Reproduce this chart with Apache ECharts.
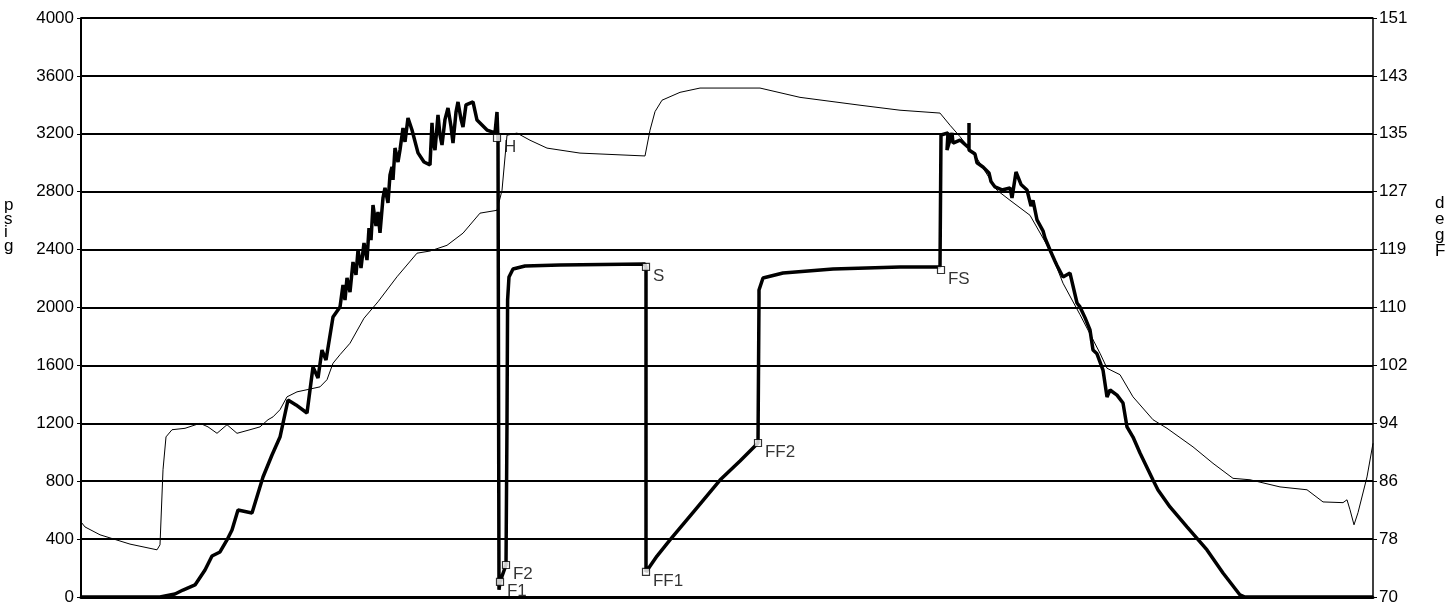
<!DOCTYPE html>
<html>
<head>
<meta charset="utf-8">
<script src="https://cdn.jsdelivr.net/npm/echarts@6/dist/echarts.min.js"></script>
<style>
html,body{margin:0;padding:0;background:#fff;}
#chart{width:1450px;height:609px;}
</style>
</head>
<body>
<div id="chart"></div>
<script>
// Elapsed time (arbitrary minutes) and pressure (psig)
const pressureTime = [
  0,39.5,47,51,57,62,65.5,69.5,73,75.5,
  78.5,85.5,91,95.5,99.5,103.5,107.5,113,116,118.5,
  120.5,122.5,126,129.5,131,132,133,134.5,136,137.5,
  138.5,140,141.5,143,144,145,146,147.5,148.5,149.5,
  151,152,153.5,154.5,155.5,156,157,158.5,159.5,161,
  162,163.5,165.5,168.5,171.5,174.5,175.5,176,177,178.5,
  179.5,180.5,182,183.5,185,186,187.5,188.5,190,191,
  192.5,193.5,196,198,203,207,208,208.5,209,209.5,
  212.5,213,213.3,214,216,222,239.5,282,282.5,282.5,
  288,294.5,307,319.5,329.5,338.5,339,339,341,351,
  376,409.5,429.5,430,433.5,433,435.5,436,439.5,444,
  444,444,447,448,451,454,455,457,460.5,464.5,
  465.5,467.5,470,473,475,476,478,481,482,484.5,
  487,488,491,494.5,498,499.5,502,504.5,506,508,
  511,513,514.5,518,521,523,526,529.5,536,538.5,
  544.5,553,563,571,579.5,582,646];
const pressurePsig = [
  0,0,21,48,83,187,283,311,394,463,
  601,580,829,981,1105,1361,1327,1271,1589,1513,
  1706,1637,1934,2004,2156,2052,2204,2107,2314,2225,
  2397,2273,2446,2328,2549,2466,2708,2563,2660,2515,
  2757,2826,2722,2916,2971,2881,3102,3005,3088,3240,
  3144,3309,3226,3068,3005,2985,3275,3150,3088,3330,
  3190,3123,3300,3378,3250,3136,3350,3420,3300,3247,
  3400,3399,3420,3295,3226,3206,3351,3157,50,104,
  221,1200,2052,2211,2266,2287,2294,2301,2280,173,
  283,394,601,808,940,1064,2052,2121,2204,2238,
  2266,2280,2280,3192,3206,3088,3206,3136,3157,3102,
  3275,3088,3060,3000,2971,2930,2870,2833,2812,2826,
  2757,2936,2850,2812,2700,2740,2605,2530,2480,2397,
  2320,2290,2211,2238,2031,2004,1930,1845,1706,1680,
  1568,1382,1430,1395,1340,1175,1105,995,808,739,
  622,484,325,166,14,0,0];

// Elapsed time and temperature (degF)
const tempTime = [0,2,9.5,24.5,38,39.5,41,42.5,45.5,52,59.5,63.5,68,73,78,84.5,89.5,93.5,96,99.5,103,108,113,119.5,123,126,129.5,134.5,141.5,148.5,158,168,174.5,183,191,199.5,208,210.5,213,218,224.5,233,249.5,282,284.5,287,290.5,299.5,309.5,339.5,359.5,389.5,409.5,429.5,434.5,439.5,447,458,464.5,474.5,484.5,491,499.5,509.5,513,519.5,526,536,543,556,566,576,584.5,599.5,613,621,631,633,634.5,636.5,638.5,643,646];
const tempDegF = [80.5,79.8,78.7,77.4,76.6,77.3,87.8,92.4,93.4,93.6,94.3,93.8,92.9,94.1,92.9,93.4,93.8,94.8,95.2,96.2,98.0,98.7,99.0,99.4,100.4,102.7,103.9,105.5,109.0,111.3,114.8,118.1,118.4,119.2,120.9,123.7,124.1,126.9,134.6,134.9,133.9,132.8,132.1,131.7,135.3,137.9,139.5,140.6,141.2,141.2,139.9,138.8,138.1,137.7,136.0,134.4,131.8,126.9,125.5,123.4,118.5,113.9,109.5,104.1,102.0,101.1,98.0,94.8,93.6,91.0,88.7,86.6,86.4,85.4,85.0,83.3,83.2,83.6,82.2,80.1,81.8,86.8,91.5];

// Event markers
const markerNames = ['H','F1','F2','S','FF1','FF2','FS'];
const markerTime = [208,209.5,212.5,282.5,282.5,338.5,430];
const markerPsig = [3171,104,221,2280,173,1064,2259];

// Tick labels
const psigTicks = [0,400,800,1200,1600,2000,2400,2800,3200,3600,4000];
const degFTicks = [70,78,86,94,102,110,119,127,135,143,151];

const FONT = 'Liberation Sans, Arial, sans-serif';
const degFMin = 70, degFMax = 151;
const degFStep = (degFMax - degFMin) / (degFTicks.length - 1);
const degFValues = degFTicks.map((_, i) => degFMin + i * degFStep);

const chart = echarts.init(document.getElementById('chart'));
chart.setOption({
  animation: false,
  backgroundColor: '#fff',
  grid: {left: 81, right: 77, top: 18, bottom: 12, containLabel: false},
  xAxis: {
    type: 'value', min: 0, max: 646,
    axisLine: {show: true, onZero: false, lineStyle: {color: '#000', width: 3}},
    axisTick: {show: false}, axisLabel: {show: false}, splitLine: {show: false}
  },
  yAxis: [{
    type: 'value', min: psigTicks[0], max: psigTicks[psigTicks.length - 1], interval: 400,
    position: 'left',
    axisLine: {show: true, lineStyle: {color: '#000', width: 2}},
    axisTick: {show: true, length: 4, lineStyle: {color: '#000', width: 1}},
    axisLabel: {color: '#000', fontSize: 17, fontFamily: FONT, margin: 7, formatter: v => String(v)},
    splitLine: {show: true, lineStyle: {color: '#000', width: 2}}
  }, {
    type: 'value', min: degFMin, max: degFMax,
    position: 'right',
    axisLine: {show: true, lineStyle: {color: '#000', width: 1.5}},
    axisTick: {show: true, length: 4, customValues: degFValues, lineStyle: {color: '#000', width: 1}},
    axisLabel: {
      color: '#000', fontSize: 17, fontFamily: FONT, margin: 6,
      customValues: degFValues,
      formatter: v => String(degFTicks[Math.round((v - degFMin) / degFStep)])
    },
    splitLine: {show: false}
  }],
  graphic: [
    {type: 'text', left: 4, top: 197, style: {text: 'p\ns\ni\ng', fontSize: 17, fontFamily: FONT, fill: '#000', lineHeight: 13.5}},
    {type: 'text', left: 1435, top: 195, style: {text: 'd\ne\ng\nF', fontSize: 17, fontFamily: FONT, fill: '#000', lineHeight: 16}}
  ],
  series: [{
    name: 'degF', type: 'line', yAxisIndex: 1,
    data: tempTime.map((t, i) => [t, tempDegF[i]]),
    showSymbol: false, lineStyle: {color: '#000', width: 1}, z: 3
  }, {
    name: 'psig', type: 'line', yAxisIndex: 0,
    data: pressureTime.map((t, i) => [t, pressurePsig[i]]),
    showSymbol: false, lineStyle: {color: '#000', width: 3.5}, z: 4
  }, {
    name: 'events', type: 'scatter', yAxisIndex: 0,
    data: markerTime.map((t, i) => ({value: [t, markerPsig[i]], name: markerNames[i]})),
    symbol: 'rect', symbolSize: 7,
    itemStyle: {color: '#fff', borderColor: '#000', borderWidth: 1.2},
    label: {show: true, formatter: p => p.name, position: [11, 5], color: '#000', fontSize: 17, fontFamily: FONT},
    z: 5
  }]
});
</script>
</body>
</html>
